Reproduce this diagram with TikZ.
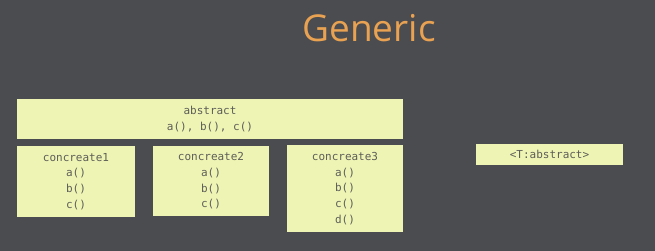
\documentclass[tikz,border=0pt]{standalone}
\usepackage{fontspec}
\setmainfont{Open Sans}
\setmonofont{DejaVu Sans Mono}

\definecolor{slide}{HTML}{4A4C50}
\definecolor{boxfill}{HTML}{EEF4B4}
\definecolor{boxtext}{HTML}{5E5E58}
\definecolor{titleorange}{HTML}{E9A152}

\begin{document}
\begin{tikzpicture}[x=1pt, y=-1pt,
		classbox/.style={fill=boxfill, text=boxtext, inner sep=0pt, align=center,
			font=\ttfamily\fontsize{11}{15.6}\selectfont}]

		% Slide background and title
		\fill[slide] (0,0) rectangle (655,251);
		\node[anchor=base, text=titleorange, font=\fontsize{37}{40}\selectfont] (title) at (369,42) {Generic};

		% Base class
		\node[classbox, minimum width=386pt, minimum height=40pt] (abstract) at (210,119) {abstract\\a(), b(), c()};

		% Derived classes
		\node[classbox, minimum width=118pt, minimum height=71pt] (concreate1) at (76,181.5) {concreate1\\a()\\b()\\c()};
		\node[classbox, minimum width=116pt, minimum height=70pt] (concreate2) at (211,181) {concreate2\\a()\\b()\\c()};
		\node[classbox, minimum width=116pt, minimum height=87pt] (concreate3) at (345,188.5) {concreate3\\a()\\b()\\c()\\d()};

		% Type parameter
		\node[classbox, minimum width=147pt, minimum height=21pt] (tparam) at (549.5,154.5) {<T:abstract>};

	\end{tikzpicture}
\end{document}
